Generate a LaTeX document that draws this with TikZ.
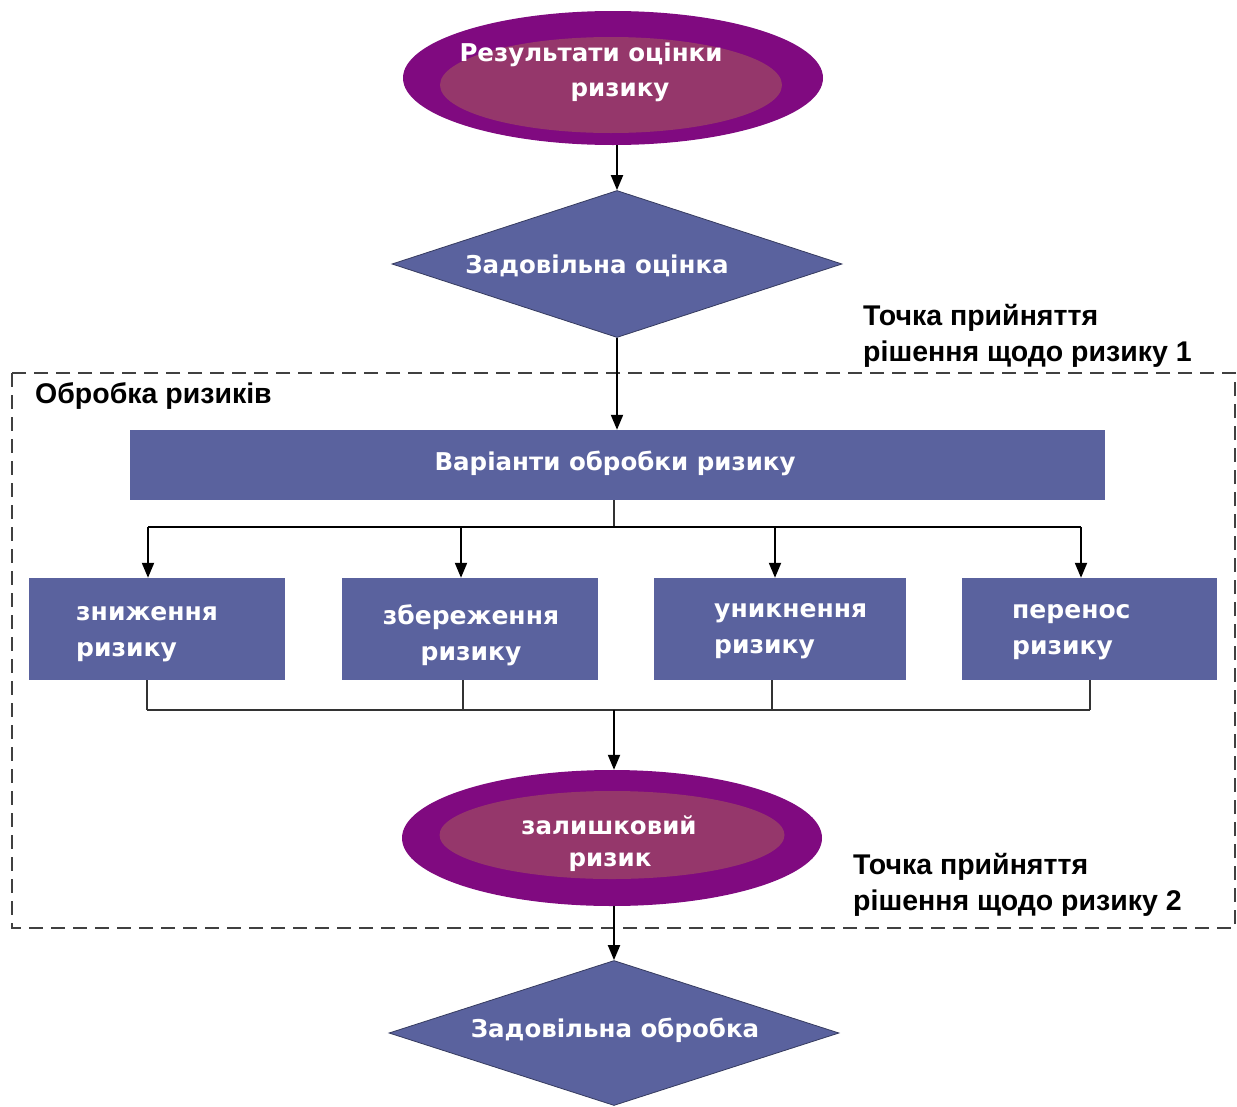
\documentclass[tikz,border=0pt]{standalone}
\usepackage{fontspec}
\setmainfont{DejaVu Sans}
\newfontfamily\labfont{Liberation Sans}
\usetikzlibrary{shapes.geometric,arrows.meta}
\definecolor{outerP}{HTML}{800A80}
\definecolor{innerP}{HTML}{95376B}
\definecolor{boxB}{HTML}{5A629E}
\tikzset{
  wtext/.style={text=white,font=\fontsize{24.5}{36}\selectfont\bfseries,inner sep=0},
  boxtext/.style={text=white,font=\fontsize{25}{36}\selectfont\bfseries,inner sep=0},
  btext/.style={text=black,font=\labfont\fontsize{28.5}{36}\selectfont\bfseries,inner sep=0,align=left,anchor=west},
  outerell/.style={ellipse,fill=outerP,inner sep=0},
  innerell/.style={ellipse,fill=innerP,inner sep=0},
  dia/.style={diamond,aspect=3,fill=boxB,draw=boxB!60!black,line width=0.8pt,inner sep=0,minimum width=450pt},
  optbox/.style={rectangle,fill=boxB,inner sep=0,minimum height=102pt},
  arr/.style={draw=black,line width=2pt,-{Triangle[width=12pt,length=15pt]}},
  thick line/.style={draw=black,line width=2pt},
  thin line/.style={draw=black!80,line width=1.2pt},
  frame/.style={draw=black!75,line width=1.5pt,dash pattern=on 14pt off 8pt}
}
\begin{document}
\begin{tikzpicture}[x=1pt,y=-1pt]
\useasboundingbox (0,0) rectangle (1237,1106);
\fill[white] (0,0) rectangle (1237,1106);

% frame
\draw[frame] (12,373) rectangle (1235,928);
\node[btext] (frametitle) at (35,396) {Обробка ризиків};

% top ellipse
\node[outerell,minimum width=420pt,minimum height=134pt] (e1) at (613,78) {};
\node[innerell,minimum width=342pt,minimum height=96pt] (e1i) at (611,85) {};
\node[wtext] (e1a) at (591,55) {Результати оцінки};
\node[wtext] (e1b) at (620,92) {ризику};

% diamond 1
\node[dia,minimum height=147pt] (d1) at (617,264) {};
\node[wtext] (d1t) at (597,266) {Задовільна оцінка};

\node[btext] (lab1) at (863,336) {Точка прийняття\\рішення щодо ризику 1};

% bar
\node[optbox,minimum width=975pt,minimum height=70pt] (bar) at (617.5,465) {};
\node[wtext] (bart) at (615,463) {Варіанти обробки ризику};

% option boxes
\node[optbox,minimum width=256pt] (b1) at (157,629) {};
\node[optbox,minimum width=256pt] (b2) at (470,629) {};
\node[optbox,minimum width=252pt] (b3) at (780,629) {};
\node[optbox,minimum width=255pt] (b4) at (1089.5,629) {};
\node[boxtext,align=left,anchor=west] (b1t) at (76,634) {зниження\\ризику};
\node[boxtext,align=center] (b2t) at (471,635) {збереження\\ризику};
\node[boxtext,align=left,anchor=west] (b3t) at (714,631) {уникнення\\ризику};
\node[boxtext,align=left,anchor=west] (b4t) at (1012,632) {перенос\\ризику};

% bottom ellipse
\node[outerell,minimum width=420pt,minimum height=136pt] (e2) at (612,838) {};
\node[innerell,minimum width=345pt,minimum height=88pt] (e2i) at (612,835) {};
\node[wtext] (e2a) at (609,825) {залишковий};
\node[wtext] (e2b) at (610,862) {ризик};

\node[btext] (lab2) at (853,885) {Точка прийняття\\рішення щодо ризику 2};

% diamond 2
\node[dia,minimum height=145pt] (d2) at (614,1033) {};
\node[wtext] (d2t) at (615,1030) {Задовільна обробка};

% connectors
\draw[arr] (d1.north |- e1.south) -- (d1.north);
\draw[arr] (d1.south) -- (d1.south |- bar.north);

\coordinate (t1) at (148,527);
\coordinate (t2) at (461,527);
\coordinate (t3) at (775,527);
\coordinate (t4) at (1081,527);
\coordinate (tm) at (614,527);
\draw[thin line] (bar.south -| tm) -- (tm);
\draw[thick line] (t1) -- (t4);
\draw[arr] (t1) -- (t1 |- b1.north);
\draw[arr] (t2) -- (t2 |- b2.north);
\draw[arr] (t3) -- (t3 |- b3.north);
\draw[arr] (t4) -- (t4 |- b4.north);

\coordinate (u1) at (147,710);
\coordinate (u2) at (463,710);
\coordinate (u3) at (772,710);
\coordinate (u4) at (1090,710);
\coordinate (um) at (614,710);
\draw[thin line] (u1 |- b1.south) -- (u1);
\draw[thin line] (u2 |- b2.south) -- (u2);
\draw[thin line] (u3 |- b3.south) -- (u3);
\draw[thin line] (u4 |- b4.south) -- (u4);
\draw[thin line] (u1) -- (u4);
\draw[arr] (um) -- (um |- e2.north);
\draw[arr] (d2.north |- e2.south) -- (d2.north);
\end{tikzpicture}
\end{document}
